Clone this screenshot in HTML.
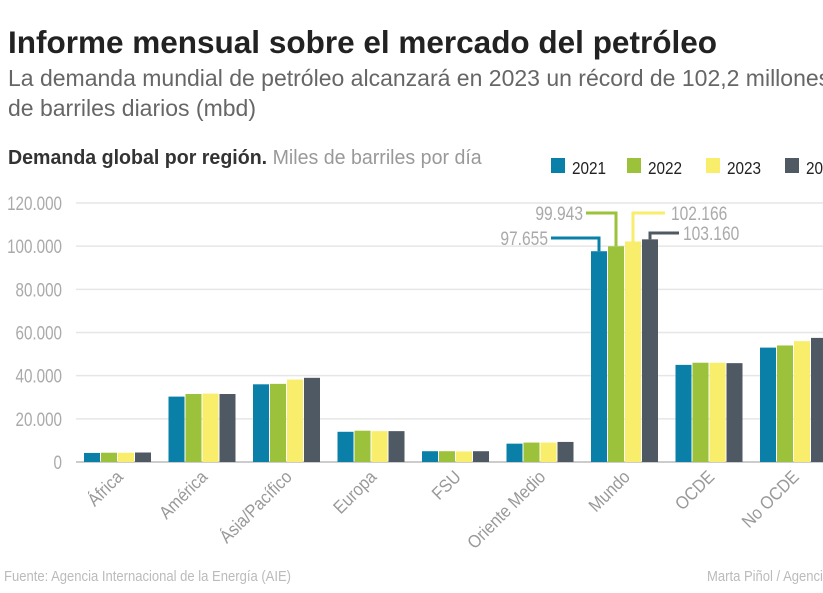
<!DOCTYPE html>
<html><head><meta charset="utf-8"><style>
body{margin:0;background:#fff;width:823px;height:593px;overflow:hidden;font-family:"Liberation Sans",sans-serif}
svg{display:block}
</style></head><body>
<svg id="c" width="823" height="593">
<text x="8" y="53" font-size="31.5" font-weight="bold" fill="#222">Informe mensual sobre el mercado del petróleo</text>
<text x="8" y="86" font-size="23" fill="#666">La demanda mundial de petróleo alcanzará en 2023 un récord de 102,2 millones</text>
<text x="8" y="116" font-size="23" fill="#666">de barriles diarios (mbd)</text>
<text x="8" y="164" font-size="20" transform="translate(8,0) scale(0.98,1) translate(-8,0)"><tspan font-weight="bold" fill="#333">Demanda global por región.</tspan><tspan fill="#999"> Miles de barriles por día</tspan></text>
<text x="4" y="581" font-size="15" fill="#bbb" transform="translate(4,0) scale(0.87,1) translate(-4,0)">Fuente: Agencia Internacional de la Energía (AIE)</text>
<text x="707" y="581" font-size="15" fill="#bbb" transform="translate(707,0) scale(0.87,1) translate(-707,0)">Marta Piñol / Agencia EFE</text>
<g id="g"></g>
</svg>
<script>
const categories=["África","América","Ásia/Pacífico","Europa","FSU","Oriente Medio","Mundo","OCDE","No OCDE"];
const years=["2021","2022","2023","2024"];
const s2021=[4200,30300,36000,14000,5000,8500,97655,45000,53000];
const s2022=[4300,31500,36200,14500,5000,9000,99943,46000,54000];
const s2023=[4300,31700,38200,14300,4900,9000,102166,46000,56000];
const s2024=[4400,31500,39000,14300,5000,9300,103160,45800,57500];
const ticks=[0,20000,40000,60000,80000,100000,120000];
const tickLabels=["0","20.000","40.000","60.000","80.000","100.000","120.000"];
const mundoLabels=["97.655","99.943","102.166","103.160"];
const series=[s2021,s2022,s2023,s2024];
const colors=["#0a80a8","#9bc23a","#f8ee6c","#4f5963"];
const NS="http://www.w3.org/2000/svg";
const g=document.getElementById('g');
const y=v=>462-v*259/120000;
const x0=i=>84+84.5*i;
function el(t,a){const e=document.createElementNS(NS,t);for(const k in a)e.setAttribute(k,a[k]);g.appendChild(e);return e;}
ticks.forEach((t,i)=>{
 const l=el('line',{x1:76,x2:823,y1:y(t),y2:y(t),stroke:t===0?'#ccc':'#e6e6e6','stroke-width':t===0?2:1.5});
 
 
 const tx=el('text',{x:62,y:y(t)+7,'font-size':19,fill:'#aaa','text-anchor':'end',transform:`translate(62,0) scale(0.8,1) translate(-62,0)`});
 tx.textContent=tickLabels[i];
 
 
});
categories.forEach((c,i)=>{
 series.forEach((s,j)=>{
  const r=el('rect',{x:x0(i)+j*17,y:y(s[i]),width:16,height:462-y(s[i]),fill:colors[j]});
  
  
 });
 const cx=x0(i)+40;
 const t=el('text',{x:0,y:0,'font-size':18,fill:'#999','text-anchor':'end',transform:`translate(${cx},478) rotate(-45) scale(0.9,1)`});
 t.textContent=c;
 
 
});
const mi=6;
const ann=[{ly:238,tx:548,anchor:'end',side:-1,len:48},{ly:213,tx:583,anchor:'end',side:-1,len:30},{ly:213,tx:671,anchor:'start',side:1,len:32},{ly:233,tx:683,anchor:'start',side:1,len:29}];
ann.forEach((a,j)=>{
 const bx=x0(mi)+j*17+8;
 const ex=bx+a.side*a.len;
 const p=el('polyline',{points:`${bx},${y(series[j][mi])} ${bx},${a.ly} ${ex},${a.ly}`,fill:'none',stroke:colors[j],'stroke-width':3});
 
 
 const t=el('text',{x:a.tx,y:a.ly+7,'font-size':19,fill:'#aaa','text-anchor':a.anchor,transform:`translate(${a.tx},0) scale(0.82,1) translate(${-a.tx},0)`});
 t.textContent=mundoLabels[j];
 
 
});
const lx=[551,627,706,785];
years.forEach((yr,j)=>{
 const r=el('rect',{x:lx[j],y:158,width:14,height:15,fill:colors[j]});
 
 
 const t=el('text',{x:lx[j]+21,y:174,'font-size':18,fill:'#222',transform:`translate(${lx[j]+21},0) scale(0.85,1) translate(${-(lx[j]+21)},0)`});
 t.textContent=yr;
 
 
});
</script>
</body></html>
